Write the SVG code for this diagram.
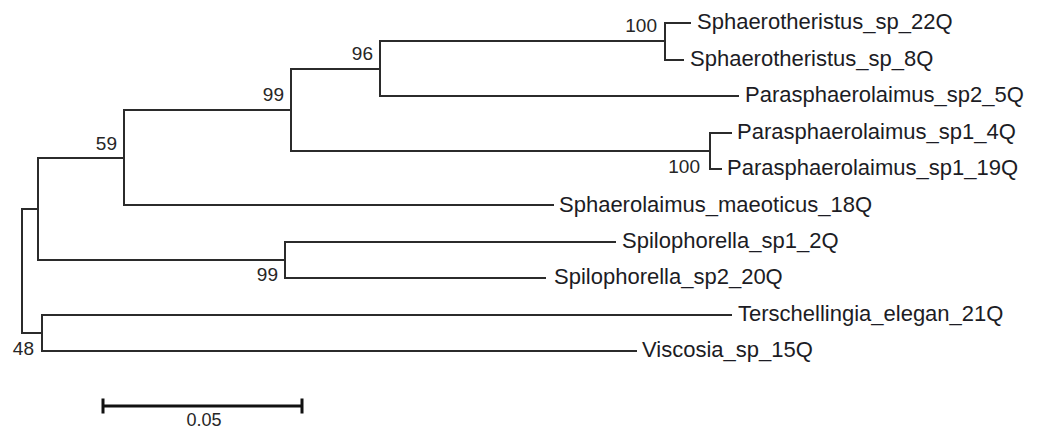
<svg xmlns="http://www.w3.org/2000/svg" width="1040" height="430" viewBox="0 0 1040 430">
<style>
.br{fill:none;stroke:#2b2b2b;stroke-width:2;stroke-linecap:square}
.leaf{font-family:"Liberation Sans",Arial,sans-serif;font-size:22px;fill:#1c1c24}
.bs{font-family:"Liberation Sans",Arial,sans-serif;font-size:19px;fill:#262626;text-anchor:end}
.sb{fill:none;stroke:#111;stroke-width:3}
.sbt{font-family:"Liberation Sans",Arial,sans-serif;font-size:18px;fill:#262626;text-anchor:middle}
</style>
<rect width="1040" height="430" fill="#fff"/>
<g id="connectors">
<path class="br" d="M665 23V60M380 41V96M710 133V169M291 69V151M124 110V205M285 242V278M38 158V260M42 315V351M22 209V333"/>
<path class="br" d="M665 23H690M665 60H683M380 41H665M380 96H738M291 69H380M710 133H731M710 169H721M291 151H710M124 110H291M124 205H553M38 158H124M285 242H615M285 278H545M38 260H285M22 209H38M42 315H731M42 351H636M22 333H42"/>
</g>
<g id="leaf-sphaerotheristus-22q"><text class="leaf" x="697" y="29">Sphaerotheristus_sp_22Q</text></g>
<g id="leaf-sphaerotheristus-8q"><text class="leaf" x="690" y="66">Sphaerotheristus_sp_8Q</text></g>
<g id="leaf-parasphaerolaimus-sp2-5q"><text class="leaf" x="745" y="102">Parasphaerolaimus_sp2_5Q</text></g>
<g id="leaf-parasphaerolaimus-sp1-4q"><text class="leaf" x="737" y="139">Parasphaerolaimus_sp1_4Q</text></g>
<g id="leaf-parasphaerolaimus-sp1-19q"><text class="leaf" x="727" y="175">Parasphaerolaimus_sp1_19Q</text></g>
<g id="leaf-sphaerolaimus-18q"><text class="leaf" x="559" y="212">Sphaerolaimus_maeoticus_18Q</text></g>
<g id="leaf-spilophorella-sp1-2q"><text class="leaf" x="622" y="248">Spilophorella_sp1_2Q</text></g>
<g id="leaf-spilophorella-sp2-20q"><text class="leaf" x="554" y="284">Spilophorella_sp2_20Q</text></g>
<g id="leaf-terschellingia-21q"><text class="leaf" x="738" y="321">Terschellingia_elegan_21Q</text></g>
<g id="leaf-viscosia-15q"><text class="leaf" x="642" y="357">Viscosia_sp_15Q</text></g>
<g id="node-100a"><text class="bs" x="657" y="32">100</text></g>
<g id="node-96"><text class="bs" x="373" y="60">96</text></g>
<g id="node-99a"><text class="bs" x="284" y="101">99</text></g>
<g id="node-59"><text class="bs" x="117" y="150">59</text></g>
<g id="node-100b"><text class="bs" x="700" y="173">100</text></g>
<g id="node-99b"><text class="bs" x="278" y="281">99</text></g>
<g id="node-48"><text class="bs" x="34" y="355">48</text></g>
<g id="scale-bar">
<path class="sb" d="M103 406H302M103 398.5V413.5M302 398.5V413.5"/>
<text class="sbt" x="204" y="426">0.05</text>
</g>
</svg>
